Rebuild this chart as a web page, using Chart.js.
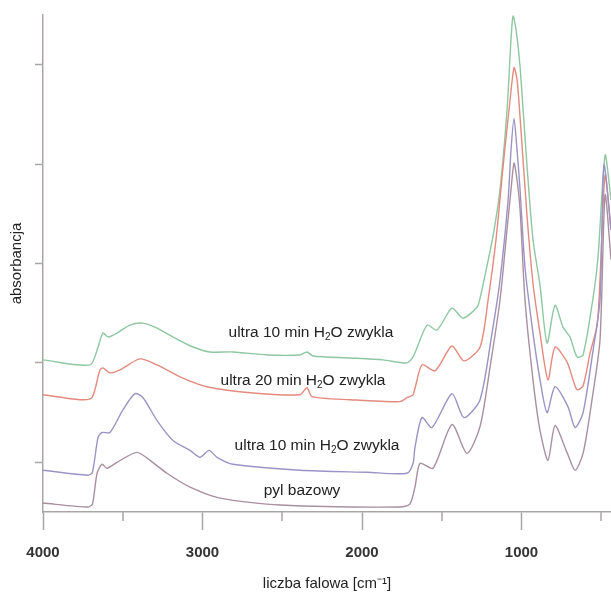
<!DOCTYPE html>
<html>
<head>
<meta charset="utf-8">
<script src="https://cdn.jsdelivr.net/npm/chart.js@4/dist/chart.umd.min.js"></script>
<style>
html,body{margin:0;padding:0;background:#fff;overflow:hidden}
#wrap{position:relative;width:611px;height:593px}
</style>
</head>
<body>
<div id="wrap"><canvas id="spectrum"></canvas></div>
<script>
// wavenumber axis (cm-1)
const xMajorTicks = [4000, 3000, 2000, 1000];
const xMinorTicks = [3500, 2500, 1500, 500];
const yTicks = [0.5, 1.5, 2.5, 3.5, 4.5];

// ultra 10 min H2O zwykla (top, green)
const wnTop  = [4000,3705,3655,3624,3592,3536,3455,3373,3285,3185,3060,2953,2809,2596,2389,2345,2307,2075,1868,1718,1680,1592,1530,1436,1367,1279,1260,1216,1178,1135,1091,1066,1053,1034,1009,965,928,884,840,790,740,696,652,614,551,520,476,439];
const absTop = [1.53,1.48,1.66,1.80,1.76,1.80,1.88,1.90,1.85,1.76,1.66,1.61,1.61,1.58,1.58,1.61,1.57,1.55,1.53,1.50,1.56,1.88,1.83,2.05,1.95,2.06,2.15,2.48,2.78,3.24,4.04,4.75,4.99,4.85,4.48,3.47,2.74,2.28,1.70,2.08,1.86,1.76,1.56,1.58,2.16,2.57,3.59,3.14];

// ultra 20 min H2O zwykla (red)
const wnU20  = [4000,3768,3693,3643,3624,3580,3517,3392,3285,3141,2972,2702,2389,2345,2313,2075,1762,1718,1680,1624,1542,1436,1361,1260,1210,1160,1116,1072,1047,1028,1009,965,928,884,834,790,715,677,652,614,570,526,508,476,439];
const absU20 = [1.18,1.13,1.15,1.43,1.45,1.40,1.43,1.54,1.48,1.36,1.26,1.20,1.18,1.25,1.16,1.13,1.11,1.15,1.18,1.48,1.42,1.67,1.52,1.66,2.13,2.74,3.47,4.14,4.47,4.35,3.97,2.97,2.30,1.80,1.33,1.66,1.51,1.33,1.23,1.27,1.60,1.88,2.34,3.39,2.84];

// ultra 10 min H2O zwykla (lower, violet)
const wnU10  = [4000,3718,3690,3655,3630,3580,3498,3423,3373,3285,3185,3078,3016,2959,2909,2809,2389,1969,1718,1680,1668,1624,1561,1436,1361,1260,1185,1135,1084,1066,1047,1028,1009,978,928,884,840,790,709,664,614,551,508,483,439];
const absU10 = [0.42,0.37,0.40,0.75,0.80,0.80,1.03,1.19,1.15,0.92,0.72,0.62,0.55,0.62,0.55,0.48,0.42,0.40,0.39,0.49,0.65,0.95,0.85,1.19,0.95,1.13,1.80,2.33,3.14,3.64,3.96,3.64,3.24,2.46,1.80,1.33,1.00,1.26,1.06,0.85,1.00,1.63,2.13,3.49,2.84];

// pyl bazowy (bottom, mauve)
const wnBase  = [4000,3718,3690,3661,3630,3599,3536,3411,3329,3223,3078,2890,2514,1762,1700,1668,1636,1555,1436,1342,1260,1197,1135,1091,1066,1047,1028,1009,978,928,884,834,790,715,664,614,558,508,476,439];
const absBase = [0.09,0.05,0.08,0.39,0.48,0.44,0.50,0.60,0.52,0.39,0.25,0.14,0.07,0.05,0.08,0.25,0.49,0.44,0.88,0.59,0.86,1.46,2.13,2.84,3.24,3.51,3.34,3.04,2.13,1.33,0.82,0.52,0.87,0.60,0.42,0.59,1.13,1.73,3.19,2.54];

const FONT = '"Liberation Sans", Arial, sans-serif';
const axisColor = '#aaa5a5';
const textColor = '#222';

const series = [
  {name:'pyl bazowy', wn:wnBase, abs:absBase, color:'#a98f9f'},
  {name:'ultra 10 min H2O zwykla', wn:wnU10, abs:absU10, color:'#9b92c6'},
  {name:'ultra 20 min H2O zwykla', wn:wnU20, abs:absU20, color:'#e48a7e'},
  {name:'ultra 10 min H2O zwykla', wn:wnTop, abs:absTop, color:'#8ec7a2'}
];

// in-plot labels: [text before subscript, subscript, text after], anchored at (wavenumber, absorbance)
const curveLabels = [
  {parts:['ultra 10 min H','2','O zwykla'], at:[2320, 1.81]},
  {parts:['ultra 20 min H','2','O zwykla'], at:[2370, 1.33]},
  {parts:['ultra 10 min H','2','O zwykla'], at:[2282, 0.67]},
  {parts:['pyl bazowy','',''], at:[2376, 0.22]}
];

function drawLabel(ctx, parts, cx, cy){
  const big = '15.5px ' + FONT, small = '10px ' + FONT;
  ctx.font = big;
  const w1 = ctx.measureText(parts[0]).width;
  const w3 = parts[2] ? ctx.measureText(parts[2]).width : 0;
  ctx.font = small;
  const w2 = parts[1] ? ctx.measureText(parts[1]).width : 0;
  let x0 = cx - (w1 + w2 + w3) / 2;
  const base = cy + 5;
  ctx.fillStyle = textColor; ctx.textAlign = 'left'; ctx.textBaseline = 'alphabetic';
  ctx.font = big; ctx.fillText(parts[0], x0, base); x0 += w1;
  if(parts[1]){ ctx.font = small; ctx.fillText(parts[1], x0, base + 3); x0 += w2; }
  if(parts[2]){ ctx.font = big; ctx.fillText(parts[2], x0, base); }
}

const extras = {
  id:'extras',
  afterDraw(chart){
    const {ctx, scales:{x, y}} = chart;
    ctx.save();
    ctx.strokeStyle = axisColor; ctx.lineWidth = 1.5;
    xMinorTicks.forEach(v=>{
      const px = Math.round(x.getPixelForValue(v));
      ctx.beginPath(); ctx.moveTo(px, y.bottom); ctx.lineTo(px, y.bottom + 9); ctx.stroke();
    });
    curveLabels.forEach(l=>{
      drawLabel(ctx, l.parts, x.getPixelForValue(l.at[0]), y.getPixelForValue(l.at[1]));
    });
    ctx.restore();
  }
};

new Chart(document.getElementById('spectrum'), {
  type:'line',
  data:{
    datasets: series.map(s=>({
      label:s.name,
      data:s.wn.map((w,i)=>({x:w, y:s.abs[i]})),
      borderColor:s.color, borderWidth:1.4,
      pointRadius:0, tension:0.25, fill:false
    }))
  },
  options:{
    responsive:true, maintainAspectRatio:false, animation:false,
    layout:{padding:{top:15, left:0, right:0, bottom:0}},
    plugins:{legend:{display:false}, tooltip:{enabled:false}},
    scales:{
      x:{
        type:'linear', reverse:true, min:439, max:4000,
        afterBuildTicks: s=>{ s.ticks = xMajorTicks.map(v=>({value:v})); },
        afterFit: s=>{ s.height = 81; },
        ticks:{callback:v=>String(v), font:{family:FONT, size:15, weight:'bold'}, color:'#333', padding:14, maxRotation:0, autoSkip:false},
        grid:{drawOnChartArea:false, tickLength:18, tickColor:axisColor, tickWidth:1.5},
        border:{color:axisColor, width:1.5},
        title:{display:true, text:'liczba falowa [cm⁻¹]', font:{family:FONT, size:15}, color:textColor, padding:{top:0, bottom:0}}
      },
      y:{
        min:0, max:5,
        afterBuildTicks: s=>{ s.ticks = yTicks.map(v=>({value:v})); },
        afterFit: s=>{ s.width = 43; },
        ticks:{callback:()=>'', padding:0},
        grid:{drawOnChartArea:false, tickLength:8, tickColor:axisColor, tickWidth:1.5},
        border:{color:axisColor, width:1.5},
        title:{display:true, text:'absorbancja', font:{family:FONT, size:15}, color:textColor, padding:{top:8, bottom:0}}
      }
    }
  },
  plugins:[extras]
});
</script>
</body>
</html>
